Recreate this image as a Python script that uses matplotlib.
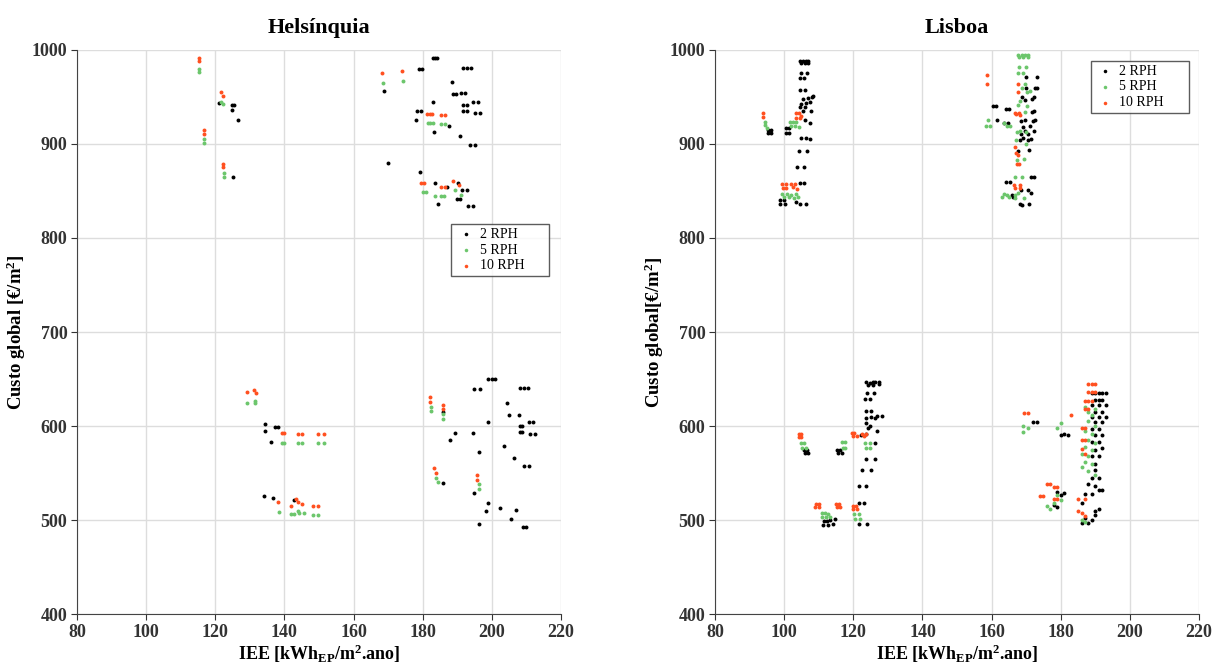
import numpy as np
import matplotlib
matplotlib.use('Agg')
import matplotlib.pyplot as plt

plt.rcParams['font.family'] = ['Liberation Serif', 'DejaVu Serif']
plt.rcParams['mathtext.fontset'] = 'custom'
plt.rcParams['mathtext.rm'] = 'Liberation Serif:bold'
plt.rcParams['mathtext.it'] = 'Liberation Serif:bold'
plt.rcParams['mathtext.bf'] = 'Liberation Serif:bold'

# series labels / colours
series_names = ['2 RPH', '5 RPH', '10 RPH']
series_colors = ['#000000', '#6cc66c', '#ff5020']

# ---- Helsinquia (IEE, custo global) ----
hel_2 = [(121.2, 944), (124.7, 941), (125.3, 941), (124.7, 936), (126.5, 925), (125.2, 865),
         (168.8, 956), (183.1, 991), (183.6, 991), (184.2, 991), (178.8, 980), (179.8, 980),
         (191.7, 981), (192.9, 981), (194, 981), (188.4, 966), (188.8, 953), (189.6, 953),
         (191.2, 954), (192.3, 954), (182.9, 945), (194.6, 945), (196.1, 945), (191.7, 941),
         (192.7, 941), (191.7, 935), (192.7, 935), (195, 933), (196.5, 933), (178.3, 935),
         (179.4, 935), (178, 926), (187.7, 919), (183.4, 913), (190.8, 908), (193.8, 899),
         (195.1, 899), (170, 880), (179.1, 870), (183.6, 859), (187.1, 854), (190.3, 859),
         (191.5, 851), (192.7, 851), (189.8, 841), (190.8, 841), (184.5, 836), (193.1, 834),
         (194.4, 834),
         (134.5, 602), (134.5, 595), (137.2, 599), (138, 599), (136.2, 583), (134.1, 526),
         (136.6, 523), (142.8, 521),
         (199, 650), (200, 650), (201, 650), (194.9, 639), (196.6, 639), (208, 640), (209.3, 640),
         (210.5, 640), (185.8, 615), (204.5, 624), (204.9, 612), (207.8, 612), (199, 604),
         (208, 600), (208.8, 600), (210.6, 604), (211.9, 604), (208, 594), (208.8, 594),
         (211.1, 592), (212.5, 592), (189.3, 593), (194.5, 593), (187.8, 585), (196.4, 572),
         (203.4, 579), (206.5, 566), (209.4, 558), (210.7, 558), (186, 539), (194.7, 529),
         (199, 518), (198.4, 510), (202.4, 513), (207, 511), (205.5, 501), (196.2, 496),
         (209, 493), (209.8, 493)]
hel_5 = [(115.3, 980), (115.3, 977), (116.8, 905), (116.8, 901), (121.7, 945), (122.3, 942),
         (122.5, 869), (122.5, 865),
         (168.4, 965), (174.2, 967), (181.5, 922), (182.2, 922), (182.9, 922), (185.2, 921),
         (186.3, 921), (180.1, 849), (181, 849), (183.6, 845), (185.2, 845), (186.2, 845),
         (189.4, 851), (191.1, 846),
         (129.3, 625), (131.4, 627), (131.4, 625), (139.4, 582), (139.9, 582), (143.8, 582),
         (145, 582), (149.6, 582), (151.3, 582), (138.3, 509), (141.8, 506), (142.8, 506),
         (143.8, 510), (144.2, 508), (145.7, 507), (148.4, 505), (149.7, 505),
         (182.3, 620), (182.3, 616), (186, 613), (186, 607), (183.9, 545), (184.3, 540),
         (196.3, 538), (196.3, 533)]
hel_10 = [(115.3, 991), (115.3, 988), (116.7, 915), (116.7, 911), (121.7, 955), (122.3, 951),
          (122.1, 879), (122.1, 875),
          (168.2, 975), (174, 977.5), (181.3, 932), (182.2, 932), (182.8, 932), (185.2, 931),
          (186.3, 931), (179.5, 858), (180.4, 858), (185.2, 854), (186.5, 854), (188.8, 861),
          (190.4, 856),
          (129.3, 636), (131.3, 638), (131.8, 635), (139.2, 593), (139.9, 593), (143.8, 592),
          (145, 592), (149.6, 592), (151.3, 592), (138.2, 519), (143.4, 522), (144, 519),
          (145.2, 517), (141.8, 515), (148.4, 515), (149.7, 515),
          (182.1, 631), (182.1, 626), (185.8, 622), (185.8, 618), (183.4, 555), (183.8, 550),
          (195.7, 548), (195.7, 543)]

# ---- Lisboa ----
lis_2 = [(95.2, 915), (96.1, 915), (95.2, 912), (96.1, 912), (100.5, 917), (101.4, 917),
         (100.5, 912), (101.4, 912),
         (104.7, 988), (105.4, 988), (106.2, 988), (106.9, 988), (105, 986), (106, 986),
         (106.9, 986), (105, 976), (106.6, 976), (104.5, 970), (105.7, 970), (104.7, 957),
         (106, 957), (105.5, 948), (106.9, 949), (107.9, 950), (108.4, 951), (105, 942),
         (106.4, 944), (107.4, 945), (104.7, 939), (106, 939), (105.5, 935), (107.7, 935),
         (106.1, 925), (107.5, 922), (105, 906), (106.4, 906), (107.4, 905), (104.3, 893),
         (106.6, 893), (103.8, 876), (105.8, 876), (104.5, 858), (105.7, 858), (98.7, 840),
         (99.9, 840), (98.9, 836), (100.2, 836), (103.5, 838), (104.5, 836), (106.4, 836),
         (169.9, 971), (173.1, 971), (170, 960), (172.6, 960), (173.1, 960), (168.8, 950),
         (169.6, 947), (171.7, 948), (172.4, 950), (160.5, 940), (161.4, 940), (164.3, 937),
         (165, 937), (171.7, 934), (172.4, 935), (161.5, 926), (163.7, 922), (164.8, 922),
         (168.5, 924), (169.6, 925), (172, 924), (172.6, 925), (169.2, 918), (171.2, 919),
         (172.4, 914), (169.6, 914), (168.5, 911), (170.6, 911), (168.1, 904), (169.2, 906),
         (170.6, 904), (171.5, 905), (167.7, 893), (170.8, 894), (171.4, 865), (172.4, 865),
         (164.3, 860), (165.3, 860), (168.5, 851), (170.4, 851), (171.5, 848), (165.8, 846),
         (166.3, 844), (168.1, 836), (170.8, 836), (168.7, 835),
         (123.7, 647), (124.9, 646), (125.6, 647), (126.3, 647), (127.5, 647), (124.1, 644),
         (125.8, 644), (127.3, 645), (124, 635), (126, 635), (123.3, 629), (124.8, 629),
         (123.6, 616), (125.2, 616), (123.8, 608), (125.2, 610), (126.2, 609), (126.9, 611),
         (128.2, 611), (123.6, 603), (124.8, 600), (124.3, 598), (126.8, 595), (122.3, 590),
         (123.6, 591), (126.3, 582), (105.7, 574), (106.5, 574), (106, 571), (107, 571),
         (115.4, 575), (116.1, 575), (115.6, 571), (116.6, 571), (123.7, 565), (126.3, 565),
         (122.4, 553), (125, 553), (121.5, 536), (123.7, 536), (121.5, 518), (123.1, 518),
         (111.5, 499), (112.3, 499), (113.3, 500), (114, 496), (111.3, 495), (112.8, 495),
         (114.7, 501), (121.5, 496), (124, 496),
         (172, 604), (173, 604), (180, 590), (181, 592), (182, 590), (178, 516), (179, 514),
         (179, 530), (180, 527), (181, 529),
         (189, 635), (190, 635), (191, 635), (192, 635), (193, 635), (190, 628), (191, 628),
         (192, 628), (189, 622), (191, 622), (193, 622), (190, 615), (192, 615), (189, 610),
         (191, 610), (193, 610), (190, 604), (192, 604), (189, 597), (191, 597), (190, 590),
         (192, 590), (189, 583), (191, 583), (190, 575), (192, 577), (189, 568), (191, 568),
         (190, 560), (190, 553), (189, 545), (191, 545), (188, 538), (190, 536), (191, 532),
         (192, 532), (187, 528), (189, 528), (186, 518), (190, 510), (191, 512), (187, 502),
         (190, 505), (186, 497), (188, 497), (189, 500)]
lis_5 = [(94.4, 923.5), (94.4, 920), (94.9, 917.4), (101.8, 923), (102.6, 923), (103.5, 923),
         (102.1, 919), (103, 919), (104.3, 918), (99.5, 847), (100.7, 847), (102, 846),
         (103.5, 847), (100, 843.5), (101.5, 843.5), (102.9, 843), (103.9, 843.5),
         (167.7, 995), (168.7, 995), (169.7, 995), (170.6, 995), (167.9, 992), (169.1, 992),
         (170.4, 993), (167.9, 982), (169.9, 982), (167.7, 976), (169.1, 976), (169.6, 964),
         (168.8, 959), (170.2, 955), (171.2, 956), (168.2, 946), (167.7, 941), (170.1, 940),
         (169.7, 934), (159, 925), (158.3, 919), (159.5, 919), (163.5, 922), (164.5, 919),
         (165.3, 919), (167.3, 913), (168.2, 914), (169.9, 913), (167, 904), (169.9, 900),
         (167.2, 883), (169.5, 884), (166.8, 865), (168.7, 865), (163.5, 847), (164.5, 846),
         (163, 844), (164.9, 844), (166.8, 846), (167.7, 848), (166.8, 843), (169.5, 843),
         (123.5, 582), (124.8, 582), (123.8, 577), (124.8, 577), (105, 582), (105.7, 582),
         (105.2, 577), (106.2, 577), (116.6, 583), (117.6, 583), (116.9, 577), (117.6, 577),
         (110.8, 507), (111.8, 507), (112.8, 506), (110.8, 503), (112.1, 503), (113.2, 503),
         (120.3, 506), (121.5, 506), (120.5, 501), (121.8, 501),
         (169, 600), (170.5, 598), (169, 594), (179, 598), (180, 603), (176, 515), (177, 512),
         (178, 518), (179, 527), (180, 521), (187, 620), (188, 615), (189, 612), (190, 618),
         (188, 605), (190, 600), (187, 595), (189, 592), (188, 585), (190, 582), (187, 578),
         (189, 575), (186, 570), (188, 568), (187, 562), (189, 560), (186, 556), (188, 552),
         (190, 548), (186, 500), (187, 498)]
lis_10 = [(93.9, 933), (93.9, 929), (103.3, 933), (104.3, 933), (103.5, 928), (104.5, 928),
          (105, 930), (99.4, 857), (100.4, 857), (102, 857), (103, 857), (99.6, 853),
          (100.6, 853), (102.6, 854), (103.6, 852),
          (158.6, 973), (158.6, 964), (167.5, 964), (167.5, 955), (166.8, 933), (167, 932),
          (168, 933), (168.2, 931), (166.8, 897), (167, 890), (167.5, 888), (167.4, 879),
          (168, 879), (166.6, 856), (168.1, 856), (166.7, 853), (168.1, 853),
          (104.3, 592), (105, 592), (104.3, 588), (105, 588), (119.5, 593), (120.2, 593),
          (119.9, 589), (121, 589), (122.4, 591), (123.1, 589), (123.7, 592), (109.2, 517),
          (110, 517), (109, 514), (110.2, 514), (115, 517), (115.8, 517), (115.2, 514),
          (116.2, 514), (119.8, 515), (120.8, 515), (120, 512), (121.2, 512),
          (169.5, 614), (170.5, 614), (183, 612), (176, 538), (177, 538), (178, 535), (179, 535),
          (174, 526), (175, 526), (178, 522), (179, 522), (188, 645), (189, 645), (190, 645),
          (188, 636), (189, 636), (190, 636), (187, 627), (188, 627), (189, 627), (187, 618),
          (188, 618), (186, 598), (187, 598), (186, 585), (187, 585), (186, 576), (187, 570),
          (185, 522), (187, 522), (185, 510), (186, 508), (187, 504)]

x_ticks = [80, 100, 120, 140, 160, 180, 200, 220]
y_ticks = [400, 500, 600, 700, 800, 900, 1000]

fig = plt.figure(figsize=(12.13, 6.66), dpi=100)
ax1 = fig.add_axes([0.0635, 0.078, 0.399, 0.847])
ax2 = fig.add_axes([0.5895, 0.078, 0.399, 0.847])

panels = [
    (ax1, 'Helsínquia', [hel_2, hel_5, hel_10], 'Custo global [€/m$^2$]', (0.773, 0.594, 0.203, 0.097)),
    (ax2, 'Lisboa', [lis_2, lis_5, lis_10], 'Custo global[€/m$^2$]', (0.776, 0.883, 0.203, 0.097)),
]

for ax, title, data, ylab, leg_box in panels:
    for pts, name, col in zip(data, series_names, series_colors):
        arr = np.array(pts)
        ax.scatter(arr[:, 0], arr[:, 1], s=8, color=col, linewidths=0, label=name, zorder=3)
    ax.set_xlim(80, 220)
    ax.set_ylim(400, 1000)
    ax.set_xticks(x_ticks)
    ax.set_yticks(y_ticks)
    ax.grid(True, color='#dddddd', linewidth=1)
    ax.set_axisbelow(True)
    for s in ['top', 'right']:
        ax.spines[s].set_visible(False)
    for s in ['left', 'bottom']:
        ax.spines[s].set_color('#444444')
    ax.tick_params(labelsize=13, colors='#333333', length=4, pad=3)
    for lab in ax.get_xticklabels() + ax.get_yticklabels():
        lab.set_fontweight('bold')
    ax.set_title(title, fontsize=16, fontweight='bold', pad=12)
    ax.set_xlabel('IEE [kWh$_{EP}$/m$^2$.ano]', fontsize=13, fontweight='bold', labelpad=1)
    ax.set_ylabel(ylab, fontsize=13.5, fontweight='bold', labelpad=3)
    leg = ax.legend(loc='upper left', bbox_to_anchor=leg_box, mode='expand',
                    fontsize=10, frameon=True, fancybox=False, edgecolor='#333333',
                    markerscale=0.9, handletextpad=0.2, borderpad=0.25, labelspacing=0.2,
                    handlelength=1.6, borderaxespad=0)
    leg.get_frame().set_linewidth(1)

fig.savefig('out.png', dpi=100)
